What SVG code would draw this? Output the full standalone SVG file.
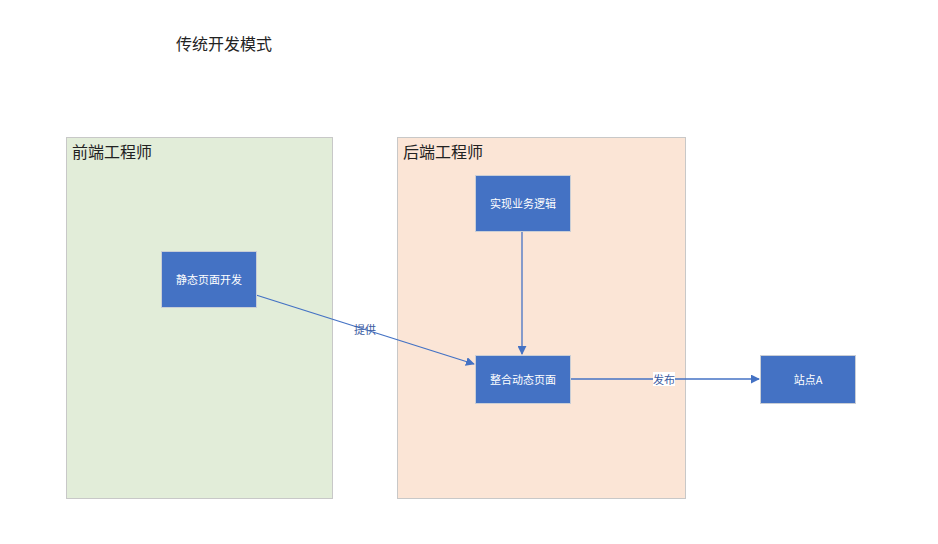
<svg xmlns="http://www.w3.org/2000/svg" width="938" height="544" viewBox="0 0 938 544">
<defs>
<style>
text{font-family:"Noto Sans CJK SC","Noto Sans",sans-serif}
.cont{stroke:#c8c8c8;stroke-width:1}
.node{fill:#4472c4;stroke:#c9ced6;stroke-width:1}
.nt{fill:#fff;font-size:11px;text-anchor:middle;dominant-baseline:central}
.ct{fill:#222;font-size:16px}
.edge{stroke:#4472c4;stroke-width:1.3;fill:none}
.el{fill:#3b5aa0;font-size:11px;text-anchor:middle;dominant-baseline:central}
</style>
<marker id="ah" viewBox="0 0 10 10" refX="9" refY="5" markerWidth="9" markerHeight="9" markerUnits="userSpaceOnUse" orient="auto"><path d="M0,0 L10,5 L0,10 z" fill="#4472c4"/></marker>
</defs>
<rect width="938" height="544" fill="#fff"/>
<text x="176" y="50" style="font-size:16px;fill:#222">传统开发模式</text>
<g id="frontend">
<rect class="cont" x="66.5" y="137.5" width="266" height="361" fill="#e2edd9"/>
<text class="ct" x="72" y="158">前端工程师</text>
</g>
<g id="backend">
<rect class="cont" x="397.5" y="137.5" width="288" height="361" fill="#fbe5d6"/>
<text class="ct" x="403" y="158">后端工程师</text>
</g>
<g id="connectors">
<line class="edge" x1="256" y1="295" x2="474" y2="364" marker-end="url(#ah)"/>
<text class="el" x="365" y="329">提供</text>
<line class="edge" x1="522" y1="232" x2="522" y2="354" marker-end="url(#ah)"/>
<line class="edge" x1="570" y1="379" x2="759" y2="379" marker-end="url(#ah)"/>
<rect x="653" y="372" width="22" height="14" fill="#fff"/>
<text class="el" x="664" y="379">发布</text>
</g>
<g id="n1"><rect class="node" x="161.5" y="251.5" width="95" height="56"/><text class="nt" x="209" y="279">静态页面开发</text></g>
<g id="n2"><rect class="node" x="475.5" y="175.5" width="95" height="56"/><text class="nt" x="523" y="203">实现业务逻辑</text></g>
<g id="n3"><rect class="node" x="475.5" y="355.5" width="95" height="48"/><text class="nt" x="523" y="379">整合动态页面</text></g>
<g id="n4"><rect class="node" x="760.5" y="355.5" width="95" height="48"/><text class="nt" x="808" y="379">站点A</text></g>
</svg>
